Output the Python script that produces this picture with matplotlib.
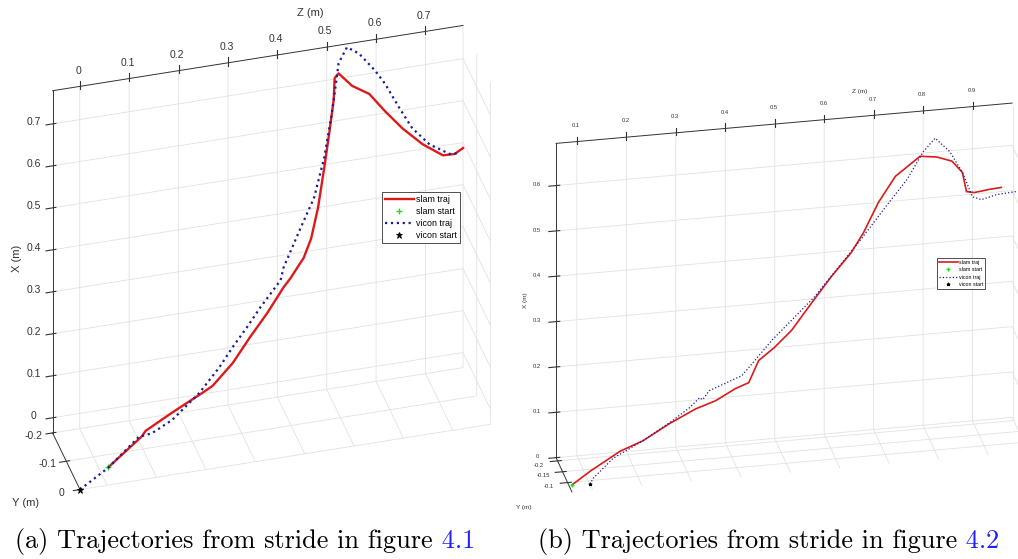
import itertools

import matplotlib
matplotlib.use("Agg")
import matplotlib.pyplot as plt
import numpy as np

plt.rcParams["font.family"] = "Liberation Sans"
plt.rcParams["axes.unicode_minus"] = False
plt.rcParams["grid.color"] = "#e2e2e2"
plt.rcParams["grid.linewidth"] = 0.6

RED = "#dc1a1a"
BLUE = "#1c1c9a"
GREEN = "#22dd22"
AXIS_GREY = "#333333"
GRID = "#e2e2e2"
LINK_BLUE = "#1f1fff"

# stride of figure 4.1, metres (Z forward, X up, Y lateral)
A_SLAM_Z = [0.002, 0.073, 0.084, 0.140, 0.205, 0.229, 0.273, 0.311, 0.349, 0.385, 0.402, 0.432, 0.450, 0.467,
            0.483, 0.496, 0.508, 0.513, 0.524, 0.551, 0.586, 0.618, 0.653, 0.694, 0.735, 0.759, 0.776]
A_SLAM_X = [0.006, 0.059, 0.063, 0.088, 0.116, 0.120, 0.159, 0.206, 0.249, 0.296, 0.307, 0.343, 0.378, 0.441,
            0.526, 0.597, 0.666, 0.710, 0.712, 0.678, 0.652, 0.605, 0.558, 0.512, 0.478, 0.476, 0.487]
A_SLAM_Y = [0.000, -0.011, -0.022, -0.033, -0.044, -0.056, -0.067, -0.078, -0.089, -0.100, -0.111, -0.122, -0.133,
            -0.144, -0.156, -0.167, -0.178, -0.189, -0.200, -0.199, -0.199, -0.198, -0.198, -0.199, -0.199, -0.200, -0.200]

A_VICON_Z = [-0.055, 0.005, 0.070, 0.100, 0.144, 0.202, 0.246, 0.276, 0.308, 0.338, 0.382, 0.391, 0.429, 0.459,
             0.483, 0.500, 0.510, 0.521, 0.541, 0.565, 0.598, 0.618, 0.647, 0.673, 0.708, 0.749, 0.769]
A_VICON_X = [-0.036, -0.003, 0.051, 0.047, 0.063, 0.108, 0.154, 0.189, 0.223, 0.257, 0.306, 0.327, 0.408, 0.466,
             0.550, 0.635, 0.682, 0.744, 0.771, 0.752, 0.705, 0.670, 0.607, 0.554, 0.509, 0.478, 0.476]
A_VICON_Y = [0.000, -0.011, -0.022, -0.033, -0.044, -0.056, -0.067, -0.078, -0.089, -0.100, -0.111, -0.122, -0.133,
             -0.144, -0.156, -0.167, -0.178, -0.189, -0.200, -0.200, -0.199, -0.199, -0.198, -0.199, -0.199, -0.200, -0.200]

A_LIMS = [(-0.055, 0.776), (0.0, -0.2), (-0.036, 0.779)]
A_Z_TICKS = [0, 0.1, 0.2, 0.3, 0.4, 0.5, 0.6, 0.7]
A_Z_LABELS = ["0", "0.1", "0.2", "0.3", "0.4", "0.5", "0.6", "0.7"]
A_Y_TICKS = [-0.2, -0.1, 0]
A_Y_LABELS = ["-0.2", "-0.1", "0"]
A_X_TICKS = [0, 0.1, 0.2, 0.3, 0.4, 0.5, 0.6, 0.7]
A_X_LABELS = ["0", "0.1", "0.2", "0.3", "0.4", "0.5", "0.6", "0.7"]

# stride of figure 4.2
B_SLAM_Z = [0.059, 0.097, 0.158, 0.205, 0.260, 0.313, 0.354, 0.395, 0.423, 0.444, 0.477, 0.512, 0.553, 0.594,
            0.635, 0.661, 0.692, 0.727, 0.778, 0.813, 0.844, 0.866, 0.875, 0.892, 0.923, 0.948]
B_SLAM_X = [0.014, 0.039, 0.075, 0.091, 0.122, 0.147, 0.159, 0.180, 0.188, 0.233, 0.257, 0.289, 0.343, 0.395,
            0.442, 0.482, 0.544, 0.596, 0.633, 0.626, 0.612, 0.583, 0.538, 0.532, 0.534, 0.534]
B_SLAM_Y = [-0.060, -0.064, -0.068, -0.073, -0.077, -0.081, -0.085, -0.089, -0.094, -0.098, -0.102, -0.106, -0.110,
            -0.115, -0.119, -0.123, -0.127, -0.131, -0.136, -0.140, -0.144, -0.148, -0.152, -0.157, -0.161, -0.165]

B_VICON_Z = [0.095, 0.103, 0.144, 0.205, 0.266, 0.301, 0.322, 0.329, 0.343, 0.376, 0.411, 0.438, 0.473, 0.514,
             0.561, 0.601, 0.656, 0.703, 0.752, 0.785, 0.810, 0.840, 0.867, 0.888, 0.907, 0.938, 0.979]
B_VICON_X = [0.012, 0.023, 0.061, 0.091, 0.128, 0.151, 0.169, 0.162, 0.178, 0.189, 0.201, 0.230, 0.269, 0.307,
             0.352, 0.399, 0.465, 0.525, 0.585, 0.640, 0.666, 0.632, 0.581, 0.523, 0.513, 0.519, 0.520]
B_VICON_Y = [-0.060, -0.064, -0.068, -0.073, -0.077, -0.081, -0.085, -0.089, -0.094, -0.098, -0.102, -0.106, -0.110,
             -0.115, -0.119, -0.123, -0.127, -0.131, -0.136, -0.140, -0.144, -0.148, -0.152, -0.157, -0.161, -0.165, -0.169]

B_LIMS = [(0.058, 0.98), (-0.057, -0.215), (0.0, 0.693)]
B_Z_TICKS = [0.1, 0.2, 0.3, 0.4, 0.5, 0.6, 0.7, 0.8, 0.9]
B_Z_LABELS = ["0.1", "0.2", "0.3", "0.4", "0.5", "0.6", "0.7", "0.8", "0.9"]
B_Y_TICKS = [-0.2, -0.15, -0.1]
B_Y_LABELS = ["-0.2", "-0.15", "-0.1"]
B_X_TICKS = [0, 0.1, 0.2, 0.3, 0.4, 0.5, 0.6]
B_X_LABELS = ["0", "0.1", "0.2", "0.3", "0.4", "0.5", "0.6"]

W, H = 1018, 559
fig = plt.figure(figsize=(W / 100, H / 100), dpi=100)


def setup_axes(ax, lims, zt, yt, xt, view, labelsize, pads, y_va):
    ax.set_proj_type("ortho")
    ax.view_init(elev=view[0], azim=view[1])
    ax.set_xlim(*lims[0])
    ax.set_ylim(*lims[1])
    ax.set_zlim(*lims[2])
    ax.set_box_aspect([abs(b - a) for a, b in lims])
    ax.patch.set_alpha(0)
    ax.set_xticks(zt[0], zt[1])
    ax.set_yticks(yt[0], yt[1])
    ax.set_zticks(xt[0], xt[1])
    ax.xaxis.set_ticks_position("upper")
    for axis in (ax.xaxis, ax.yaxis, ax.zaxis):
        axis.set_pane_color((1, 1, 1, 0))
        axis.pane.set_edgecolor(GRID)
        axis.line.set_color(AXIS_GREY)
        axis.line.set_linewidth(0.7)
    # Y and X tick labels sit straight to the left of their ticks
    for axis in (ax.yaxis, ax.zaxis):
        axis._axmask = lambda: [True, False, False]
    for name, pad in zip("xyz", pads):
        ax.tick_params(axis=name, colors=AXIS_GREY, labelsize=labelsize, width=0.6, pad=pad)
    for t in ax.get_zticklabels():
        t.set_va("bottom")
    for t in ax.get_yticklabels():
        t.set_va(y_va)


def place_box(ax, left, top, right, bottom):
    # resize the (square) 3d axes so the drawn cube spans the given pixel rect, y measured downward
    for _ in range(3):
        fig.canvas.draw()
        c = np.array(list(itertools.product(ax.get_xlim(), ax.get_ylim(), ax.get_zlim())))
        p = ax.M @ np.vstack([c.T, np.ones(len(c))])
        pts = ax.transData.transform(np.column_stack([p[0] / p[3], p[1] / p[3]]))
        bx0, bx1 = pts[:, 0].min(), pts[:, 0].max()
        by0, by1 = pts[:, 1].min(), pts[:, 1].max()
        k = 0.5 * ((right - left) / (bx1 - bx0) + (bottom - top) / (by1 - by0))
        bb = ax.bbox
        acx, acy = 0.5 * (bb.x0 + bb.x1), 0.5 * (bb.y0 + bb.y1)
        s = bb.width * k
        ncx = 0.5 * (left + right) - (0.5 * (bx0 + bx1) - acx) * k
        ncy = H - 0.5 * (top + bottom) - (0.5 * (by0 + by1) - acy) * k
        ax.set_position([(ncx - s / 2) / W, (ncy - s / 2) / H, s / W, s / H])


def draw_stride(ax, slam, vicon, lw_slam, lw_vicon, ms):
    ax.plot(slam[0], slam[2], slam[1], color=RED, lw=lw_slam, label="slam traj")
    ax.plot(slam[0][:1], slam[2][:1], slam[1][:1], "+", color=GREEN, ms=ms, mew=1.0, label="slam start")
    ax.plot(vicon[0], vicon[2], vicon[1], ":", color=BLUE, lw=lw_vicon, label="vicon traj")
    ax.plot(vicon[0][:1], vicon[2][:1], vicon[1][:1], "*", color="black", ms=ms, mew=0.6, label="vicon start")


def legend(ax, x, y, size, hlen, spacing):
    leg = ax.legend(loc="upper left", bbox_to_anchor=(x / W, 1 - y / H), bbox_transform=fig.transFigure,
                    fontsize=size, frameon=True, fancybox=False, framealpha=1, edgecolor=AXIS_GREY,
                    handlelength=hlen, handletextpad=0.25, borderpad=0.35, labelspacing=spacing,
                    borderaxespad=0)
    leg.get_frame().set_linewidth(0.6)


def label(x, y, text, size, rot=0):
    fig.text(x / W, 1 - y / H, text, fontsize=size, color=AXIS_GREY, rotation=rot, ha="center", va="center")


def caption(x, head, ref):
    t = fig.text(x / W, 1 - 548 / H, head, fontsize=18.9, family="cmr10", va="baseline")
    fig.canvas.draw()
    x1 = t.get_window_extent().x1
    fig.text(x1 / W, 1 - 548 / H, " " + ref, fontsize=18.9, family="cmr10", va="baseline", color=LINK_BLUE)


ax_a = fig.add_axes([0.0, 0.0, 0.55, 1.0], projection="3d")
setup_axes(ax_a, A_LIMS, (A_Z_TICKS, A_Z_LABELS), (A_Y_TICKS, A_Y_LABELS), (A_X_TICKS, A_X_LABELS),
           (35, -105.5), 7.5, (3.5, 2, 2), "center")
draw_stride(ax_a, (A_SLAM_Z, A_SLAM_X, A_SLAM_Y), (A_VICON_Z, A_VICON_X, A_VICON_Y), 1.7, 1.6, 4.5)
legend(ax_a, 382, 192, 6.4, 3.2, 0.33)

ax_b = fig.add_axes([0.45, 0.0, 0.55, 1.0], projection="3d")
setup_axes(ax_b, B_LIMS, (B_Z_TICKS, B_Z_LABELS), (B_Y_TICKS, B_Y_LABELS), (B_X_TICKS, B_X_LABELS),
           (26, -101.4), 4.2, (3.5, 1, 1), "top")
draw_stride(ax_b, (B_SLAM_Z, B_SLAM_X, B_SLAM_Y), (B_VICON_Z, B_VICON_X, B_VICON_Y), 1.2, 0.9, 2.5)
legend(ax_b, 937, 258, 3.8, 3.6, 0.45)

place_box(ax_a, 53, 25, 490, 490)
place_box(ax_b, 555, 104, 1029, 491)

label(310, 13, "Z (m)", 8)
label(17, 258, "X (m)", 8, 90)
label(26, 503, "Y (m)", 8)
label(860, 91, "Z (m)", 4.6)
label(526, 300, "X (m)", 4.6, 90)
label(524, 508, "Y (m)", 4.6)

caption(15, "(a) Trajectories from stride in figure", "4.1")
caption(538, "(b) Trajectories from stride in figure", "4.2")

fig.savefig("out.png", dpi=100)
